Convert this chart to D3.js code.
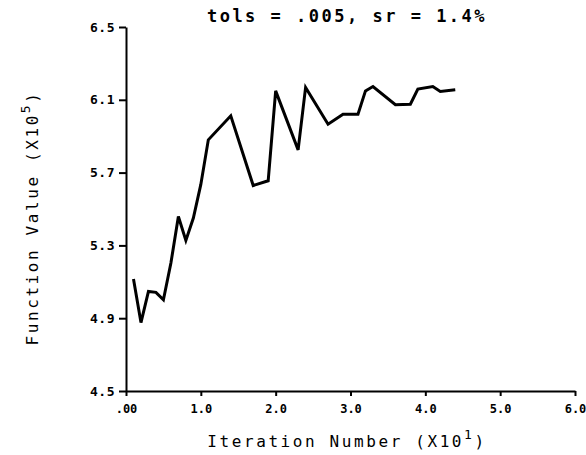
<!DOCTYPE html>
<html>
<head>
<meta charset="utf-8">
<script src="https://cdn.jsdelivr.net/npm/d3@7"></script>
<style>
  body { margin: 0; background: #fff; }
  text { font-family: "DejaVu Sans Mono", monospace; font-weight: bold; fill: #000; }
</style>
</head>
<body>
<div id="chart"></div>
<script>
// iteration number vs function value (x10^5)
const iterations = [1, 2, 3, 4, 5, 6, 7, 8, 9, 10, 11, 14, 17, 19, 20, 23, 24, 27, 29, 31, 32, 33, 36, 38, 39, 41, 42, 44];
const values = [5.115, 4.876, 5.047, 5.042, 5.001, 5.203, 5.459, 5.327, 5.450, 5.635, 5.880, 6.012,
                5.629, 5.655, 6.149, 5.825, 6.168, 5.966, 6.021, 6.021, 6.149, 6.173, 6.073, 6.076,
                6.159, 6.173, 6.146, 6.155];
const xTicks = [0, 10, 20, 30, 40, 50, 60];
const xTickLabels = [".00", "1.0", "2.0", "3.0", "4.0", "5.0", "6.0"];
const yTicks = [4.5, 4.9, 5.3, 5.7, 6.1, 6.5];

const width = 586;
const height = 455;
const margin = { top: 27, right: 11, bottom: 64, left: 126 };

const svg = d3.select("#chart")
    .append("svg")
    .attr("width", width)
    .attr("height", height);

const x = d3.scaleLinear().domain([0, 60]).range([margin.left, width - margin.right]);
const y = d3.scaleLinear().domain([4.5, 6.5]).range([height - margin.bottom, margin.top]);

const xAxis = svg.append("g")
    .attr("transform", `translate(0,${height - margin.bottom})`)
    .call(d3.axisBottom(x).tickValues(xTicks).tickFormat((d, i) => xTickLabels[i])
        .tickSizeInner(5).tickSizeOuter(0).tickPadding(8));

const yAxis = svg.append("g")
    .attr("transform", `translate(${margin.left},0)`)
    .call(d3.axisLeft(y).tickValues(yTicks).tickFormat(d3.format(".1f"))
        .tickSizeInner(7).tickSizeOuter(0).tickPadding(4));

[xAxis, yAxis].forEach(g => {
    g.select(".domain").attr("stroke", "#000").attr("stroke-width", 2);
    g.selectAll(".tick line").attr("stroke", "#000").attr("stroke-width", 2);
    g.selectAll(".tick text").attr("fill", "#000");
});
xAxis.selectAll(".tick text").style("font-size", "12px");
yAxis.selectAll(".tick text").style("font-size", "13px").style("letter-spacing", "0.5px");

const line = d3.line()
    .x((d, i) => x(iterations[i]))
    .y(d => y(d));

svg.append("path")
    .datum(values)
    .attr("fill", "none")
    .attr("stroke", "#000")
    .attr("stroke-width", 3)
    .attr("stroke-linejoin", "miter")
    .attr("d", line);

// title
svg.append("text")
    .attr("x", 347)
    .attr("y", 22)
    .attr("text-anchor", "middle")
    .style("font-size", "17px")
    .style("letter-spacing", "2.5px")
    .text("tols = .005, sr = 1.4%");

// x axis title
const xt = svg.append("text")
    .attr("x", 347)
    .attr("y", 447)
    .attr("text-anchor", "middle")
    .style("font-size", "16px")
    .style("letter-spacing", "2.6px")
    .style("font-weight", "normal");
xt.append("tspan").text("Iteration Number (X10");
xt.append("tspan").attr("dy", -8).style("font-size", "13px").text("1");
xt.append("tspan").attr("dy", 8).text(")");

// y axis title
const yt = svg.append("text")
    .attr("transform", "translate(38,218) rotate(-90)")
    .attr("text-anchor", "middle")
    .style("font-size", "16px")
    .style("letter-spacing", "2.6px")
    .style("font-weight", "normal");
yt.append("tspan").text("Function Value (X10");
yt.append("tspan").attr("dy", -8).style("font-size", "13px").text("5");
yt.append("tspan").attr("dy", 8).text(")");
</script>
</body>
</html>
